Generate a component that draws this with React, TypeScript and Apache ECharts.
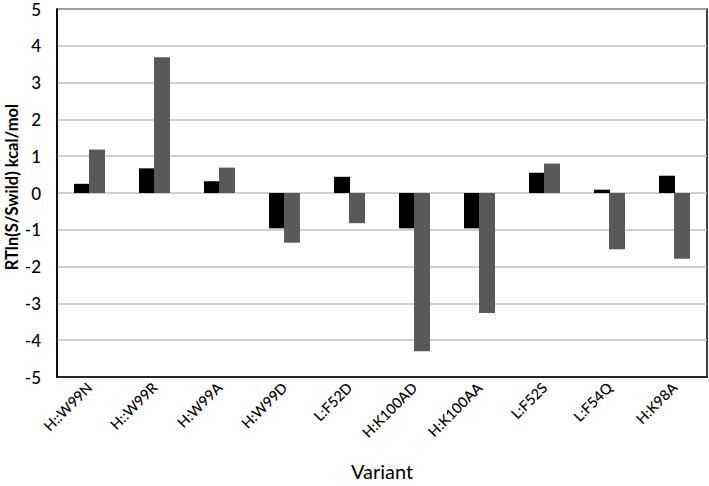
import React, { useEffect, useRef } from "react";
import * as echarts from "echarts";

const categories = ["H::W99N", "H::W99R", "H:W99A", "H:W99D", "L:F52D", "H:K100AD", "H:K100AA", "L:F52S", "L:F54Q", "H:K98A"];
const seriesA = [0.25, 0.67, 0.32, -0.96, 0.44, -0.96, -0.96, 0.55, 0.09, 0.47];
const seriesB = [1.18, 3.69, 0.69, -1.35, -0.82, -4.3, -3.26, 0.8, -1.53, -1.79];
const yMin = -5;
const yMax = 5;
const yInterval = 1;
const yTitle = "RTln(S/Swild) kcal/mol";
const xTitle = "Variant";

const FONT = "Lato, 'Open Sans', sans-serif";

export default function App() {
  const ref = useRef<HTMLDivElement>(null);
  useEffect(() => {
    if (!ref.current) return;
    const chart = echarts.init(ref.current, null, { renderer: "svg" });
    chart.setOption({
      animation: false,
      backgroundColor: "#fff",
      textStyle: { fontFamily: FONT },
      grid: {
        left: 57,
        right: 2,
        top: 9,
        bottom: 108,
        show: true,
        borderColor: "#000",
        borderWidth: 1.5,
        containLabel: false,
      },
      graphic: [
        {
          type: "text",
          x: 12,
          y: 187,
          rotation: Math.PI / 2,
          style: {
            text: yTitle,
            fontSize: 16.5,
            fontWeight: "bold",
            fill: "#000",
            fontFamily: FONT,
            align: "center",
            verticalAlign: "middle",
          },
        },
      ],
      xAxis: {
        type: "category",
        data: categories,
        axisLine: { onZero: false, lineStyle: { color: "#000", width: 1.5 } },
        axisTick: { show: false },
        axisLabel: { rotate: 45, fontSize: 14.5, color: "#000", margin: 8, fontFamily: FONT, interval: 0, fontWeight: 500 },
        name: xTitle,
        nameLocation: "middle",
        nameGap: 84,
        nameTextStyle: { fontSize: 20, color: "#000", fontFamily: FONT },
      },
      yAxis: {
        type: "value",
        min: yMin,
        max: yMax,
        interval: yInterval,
        axisLine: { show: true, lineStyle: { color: "#000", width: 1.5 } },
        axisTick: { show: false },
        splitLine: { lineStyle: { color: "#c0c0c0", width: 1.5 } },
        axisLabel: { fontSize: 17, color: "#000", margin: 16, fontFamily: FONT, fontWeight: 500 },
      },
      series: [
        {
          type: "bar",
          data: seriesA,
          barWidth: 16,
          barGap: "-6%",
          itemStyle: { color: "#000" },
        },
        {
          type: "bar",
          data: seriesB,
          barWidth: 16,
          itemStyle: { color: "#595959" },
        },
      ],
    });
    return () => chart.dispose();
  }, []);
  return <div ref={ref} style={{ position: "fixed", left: 0, top: 0, width: 709, height: 486 }} />;
}
